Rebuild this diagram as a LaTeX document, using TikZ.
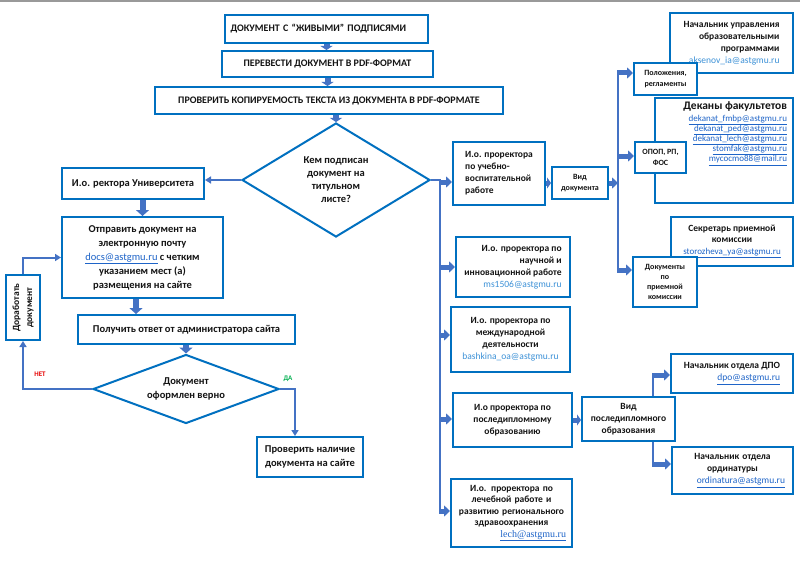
\documentclass[tikz,border=0pt]{standalone}
\usepackage{fontspec}
\setmainfont{Carlito}
\newfontfamily\timesf{Liberation Serif}
\usetikzlibrary{arrows.meta,shapes.geometric}
\definecolor{boxblue}{RGB}{0,112,192}
\definecolor{arrblue}{RGB}{68,114,196}
\definecolor{linkblue}{RGB}{30,100,200}
\definecolor{linklight}{RGB}{60,145,215}
\definecolor{txt}{RGB}{20,20,20}
\definecolor{netred}{RGB}{230,0,0}
\definecolor{dagreen}{RGB}{0,176,80}
\newcommand{\ulnk}[1]{{\mdseries\color{linkblue}\underline{#1}}}
\newcommand{\plnk}[1]{{\mdseries\color{linklight}#1}}
\begin{document}
\begin{tikzpicture}[x=1pt,y=-1pt,
  box/.style={draw=boxblue,line width=2pt,fill=white,inner sep=0pt,text=txt,align=center,font=\bfseries\fontsize{9.5}{12}\selectfont},
  caps/.style={font=\bfseries\fontsize{10}{12}\selectfont},
  body/.style={font=\bfseries\fontsize{10.5}{14}\selectfont},
  small/.style={font=\bfseries\fontsize{8}{11}\selectfont},
  wh/.style 2 args={minimum width=#1pt,minimum height=#2pt},
  big/.style={draw=arrblue,line width=6pt,-{Triangle[width=13pt,length=6pt]}},
  shortbig/.style={draw=arrblue,line width=6pt,-{Triangle[width=12pt,length=4pt]}},
  stub/.style={draw=arrblue,line width=5pt,-{Triangle[width=11pt,length=6pt]}},
  tinystub/.style={draw=arrblue,line width=5pt,-{Triangle[width=11pt,length=4pt]}},
  conn/.style={draw=arrblue,line width=2pt},
  bus/.style={draw=arrblue,line width=2.5pt},
  connarrow/.style={conn,-{Triangle[width=7pt,length=6pt]}},
  lbl/.style={font=\bfseries\fontsize{7}{8}\selectfont,inner sep=0pt}
]
\useasboundingbox (0,0) rectangle (800,567);
\fill[white] (0,0) rectangle (800,567);
\draw[gray!80,line width=2pt] (0,1) -- (800,1);

% main flow
\node[box,caps,wh={203}{28},text width=192pt,align=left] (t1) at (326.5,29) {ДОКУМЕНТ С “ЖИВЫМИ” ПОДПИСЯМИ};
\node[box,caps,wh={211}{26}] (t2) at (327.5,64) {ПЕРЕВЕСТИ ДОКУМЕНТ В PDF-ФОРМАТ};
\node[box,caps,wh={348}{27}] (t3) at (329,100.5) {ПРОВЕРИТЬ КОПИРУЕМОСТЬ ТЕКСТА ИЗ ДОКУМЕНТА В PDF-ФОРМАТЕ};
\node[box,diamond,aspect=1.65,wh={188}{114},font=\bfseries\fontsize{10.5}{13}\selectfont] (q1) at (336,180) {Кем подписан\\документ на\\титульном\\листе?};
\node[box,body,wh={142}{31}] (rector) at (133,183.5) {И.о. ректора Университета};
\node[box,body,wh={161}{81}] (send) at (142.5,257.5) {Отправить документ на\\электронную почту\\\ulnk{docs@astgmu.ru} с четким\\указанием мест (а)\\размещения на сайте};
\node[box,body,wh={217}{29}] (recv) at (186.5,329.5) {Получить ответ от администратора сайта};
\node[box,diamond,aspect=2.7,wh={186}{69},font=\bfseries\fontsize{10.5}{14}\selectfont] (q2) at (186,389) {Документ\\оформлен верно};
\node[box,body,wh={106}{40}] (check) at (310,457) {Проверить наличие\\документа на сайте};
\node[box,rotate=90,wh={65}{34},font=\bfseries\fontsize{9.5}{13}\selectfont] (rework) at (23,307.5) {Доработать\\документ};

% vice-rectors
\node[box,wh={92}{63},align=left] (uvr) at (499,173.5) {И.о. проректора\\по учебно-\\воспитательной\\работе};
\node[box,small,wh={56}{32}] (vid) at (580,183) {Вид\\документа};
\node[box,wh={114}{60},align=right] (nauch) at (513,267) {И.о. проректора по\\научной и\\инновационной работе\\\plnk{ms1506@astgmu.ru}};
\node[box,wh={119}{65}] (mezh) at (510.5,339.5) {И.о. проректора по\\международной\\деятельности\\\plnk{bashkina\_oa@astgmu.ru}};
\node[box,wh={119}{54}] (posl) at (512.5,420) {И.о проректора по\\последипломному\\образованию};
\node[box,wh={93}{44}] (vidp) at (628.5,419) {Вид\\последипломного\\образования};
\node[box,wh={121}{68},text width=109pt,font=\bfseries\fontsize{9.5}{11.5}\selectfont] (lech) at (511.5,513) {И.о. проректора по\\лечебной работе и\\развитию регионального\\здравоохранения\\\hspace*{\fill}{\timesf\mdseries\fontsize{10}{11.5}\selectfont\color{linkblue}\underline{lech@astgmu.ru}}};
\node[box,wh={122}{39},align=right] (dpo) at (732,373.5) {Начальник отдела ДПО\\\ulnk{dpo@astgmu.ru}};
\node[box,wh={121}{47},text width=105pt] (ord) at (732.5,470.5) {Начальник отдела\\ординатуры\\\hspace*{\fill}\ulnk{ordinatura@astgmu.ru}};

% document types
\node[box,wh={123}{60},align=right] (aks) at (731.5,43) {Начальник управления\\образовательными\\программами\\\plnk{aksenov\_ia@astgmu.ru}};
\node[box,small,wh={63}{32}] (pol) at (665.5,79) {Положения,\\регламенты};
\node[box,wh={138}{105}] (dek) at (724,150.5) {\parbox[c][97pt][t]{126pt}{\raggedleft{\fontsize{11.5}{14}\selectfont Деканы факультетов\par}\vspace{1pt}{\mdseries\fontsize{9}{10.2}\selectfont\ulnk{dekanat\_fmbp@astgmu.ru}\\\ulnk{dekanat\_ped@astgmu.ru}\\\ulnk{dekanat\_lech@astgmu.ru}\\\ulnk{stomfak@astgmu.ru}\\\ulnk{mycocmo88@mail.ru}\par}}};
\node[box,small,wh={51}{31}] (opop) at (660.5,157.5) {ОПОП, РП,\\ФОС};
\node[box,font=\bfseries\fontsize{9.5}{11.5}\selectfont,wh={122}{49}] (sekr) at (732,241.5) {Секретарь приемной\\комиссии\\{\fontsize{9}{11.5}\selectfont\ulnk{storozheva\_ya@astgmu.ru}}};
\node[box,font=\bfseries\fontsize{8}{10}\selectfont,wh={64}{50}] (dpk) at (665,282) {Документы\\по\\приемной\\комиссии};

% main flow connectors
\draw[shortbig] (t1.south) -- (t1.south |- t2.north);
\draw[shortbig] (t2.south) -- (t2.south |- t3.north);
\draw[shortbig] (t3.south -| q1.north) -- (q1.north);
\draw[big] (rector.south -| send.north) -- (send.north);
\coordinate (sd) at ([xshift=-6.5pt]send.south);
\draw[big] (sd) -- (sd |- recv.north);
\draw[big] (recv.south -| q2.north) -- (q2.north);
\draw[connarrow] (q1.west) -- (q1.west -| rector.east);
\draw[connarrow] (q2.west) -| (rework.west);
\draw[connarrow] (rework.east) |- (send.west);
\coordinate (da) at ([xshift=-15pt]check.north);
\draw[connarrow] (q2.east) -| (da);
\node[lbl,text=netred] (netl) at (40,374) {НЕТ};
\node[lbl,text=dagreen] (dal) at (288,379) {ДА};

% bus 1
\coordinate (bA) at (440,180);
\coordinate (bB) at (440,513);
\draw[bus] (q1.east) -- (bA) -- (bB);
\foreach \yy/\nn in {182/uvr,267/nauch,335/mezh,419/posl,511/lech}{
  \coordinate (s) at (439,\yy);
  \draw[stub] (s) -- (s -| \nn.west);
}
\draw[tinystub] (uvr.east |- vid.west) -- (vid.west);
\coordinate (c0) at (618,183);
\draw[stub] (vid.east) -- (c0);
\coordinate (cA) at (618,73);
\coordinate (cB) at (618,270);
\draw[bus] (cA) -- (cB);
\foreach \yy/\nn in {73/pol,156/opop,270/dpk}{
  \coordinate (s) at (617,\yy);
  \draw[stub] (s) -- (s -| \nn.west);
}
\draw[tinystub] (posl.east) -- (posl.east -| vidp.west);
\coordinate (v1) at (653,375);
\coordinate (v2) at (653,464);
\draw[bus] (v1 |- vidp.north) -- (v1);
\draw[bus] (v2 |- vidp.south) -- (v2);
\draw[stub] ([xshift=-1pt]v1) -- (v1 -| dpo.west);
\draw[stub] ([xshift=-1pt]v2) -- (v2 -| ord.west);
\end{tikzpicture}
\end{document}
